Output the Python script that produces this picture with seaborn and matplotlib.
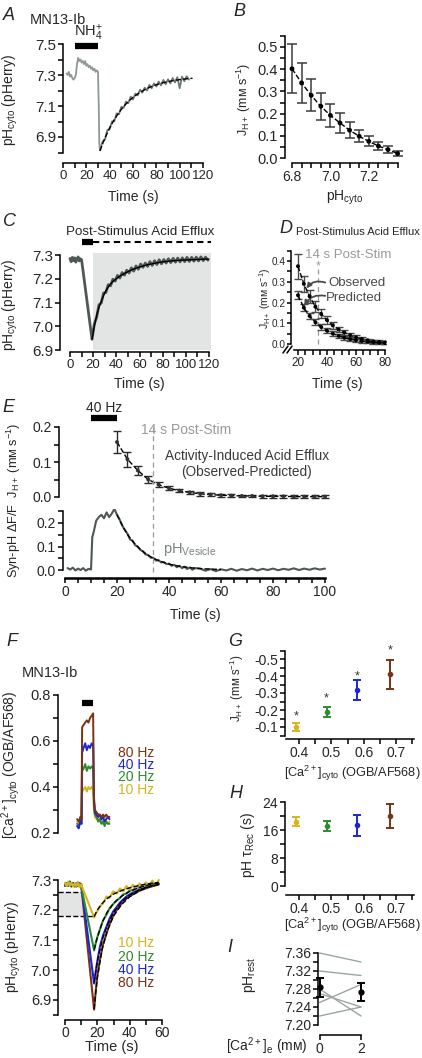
import numpy as np
import pandas as pd
import matplotlib
matplotlib.use("Agg")
import matplotlib.pyplot as plt
from matplotlib.lines import Line2D
from matplotlib.ticker import FixedLocator, FormatStrFormatter
import seaborn as sns

# ---------------- data ----------------
# A: NH4+ prepulse trace and fitted recovery
a_time = [3, 4, 5, 6, 7, 8, 9, 10, 11, 12, 13, 14, 15, 16, 17, 18, 19, 20, 21, 22, 23, 24, 25,
          26, 27, 28, 29, 30, 30.6, 31.1, 31.7] + list(range(34, 109, 2))
a_ph = [7.31, 7.30, 7.32, 7.29, 7.30, 7.28, 7.27, 7.28, 7.30, 7.37, 7.41, 7.39, 7.40, 7.38, 7.39,
        7.37, 7.39, 7.36, 7.37, 7.35, 7.36, 7.34, 7.35, 7.33, 7.34, 7.32, 7.33, 7.32, 7.12, 6.86, 6.815,
        6.872, 6.884, 6.945, 6.950, 7.000, 7.002, 7.052, 7.047, 7.095, 7.088, 7.128, 7.118, 7.160,
        7.142, 7.180, 7.168, 7.205, 7.186, 7.218, 7.200, 7.236, 7.214, 7.246, 7.226, 7.258, 7.233,
        7.268, 7.240, 7.272, 7.246, 7.280, 7.252, 7.286, 7.215, 7.289, 7.260, 7.292, 7.270]
a_fit_time = [31.7, 34, 36, 40, 44, 48, 52, 56, 60, 64, 68, 72, 76, 80, 84, 88, 92, 96, 100, 104, 108, 111]
a_fit_ph = [6.81, 6.857, 6.894, 6.959, 7.013, 7.059, 7.097, 7.129, 7.156, 7.178, 7.197, 7.213, 7.226,
            7.237, 7.246, 7.254, 7.260, 7.266, 7.270, 7.274, 7.277, 7.279]

# B: proton flux vs cytosolic pH
b_ph = [6.80, 6.85, 6.90, 6.95, 7.00, 7.05, 7.10, 7.15, 7.20, 7.25, 7.30, 7.35]
b_flux = [0.402, 0.338, 0.282, 0.233, 0.192, 0.158, 0.125, 0.098, 0.075, 0.054, 0.038, 0.020]
b_err = [0.110, 0.090, 0.072, 0.062, 0.053, 0.045, 0.035, 0.028, 0.023, 0.017, 0.015, 0.012]

# C: post-stimulus recovery
c_time = list(range(0, 11)) + [19] + list(range(21, 120, 2))
c_ph = [7.285, 7.272, 7.290, 7.276, 7.288, 7.270, 7.282, 7.292, 7.275, 7.284, 7.280, 6.945,
        7.010, 7.038, 7.090, 7.098, 7.140, 7.142, 7.175, 7.170, 7.198, 7.190,
        7.214, 7.203, 7.226, 7.215, 7.236, 7.224, 7.246, 7.232, 7.254, 7.240,
        7.262, 7.248, 7.266, 7.252, 7.272, 7.256, 7.276, 7.260, 7.280, 7.263,
        7.281, 7.266, 7.284, 7.268, 7.286, 7.270, 7.287, 7.271, 7.288, 7.272,
        7.290, 7.273, 7.290, 7.274, 7.291, 7.275, 7.292, 7.276, 7.291, 7.278]
c_fit_time = [19, 21, 23, 25, 27, 29, 31, 33, 35, 38, 41, 44, 47, 50, 54, 58, 62, 66, 70, 75, 80,
              85, 90, 95, 100, 105, 110, 115, 120]
c_fit_ph = [6.945, 7.000, 7.045, 7.080, 7.105, 7.130, 7.150, 7.165, 7.178, 7.193, 7.204, 7.214,
            7.222, 7.230, 7.239, 7.246, 7.252, 7.258, 7.262, 7.267, 7.271, 7.274, 7.276, 7.278,
            7.279, 7.280, 7.281, 7.282, 7.283]

# D: observed vs predicted efflux
d_time = [20, 24, 28, 32, 36, 40, 44, 48, 52, 56, 60, 64, 68, 72, 76, 80]
d_obs = [0.375, 0.29, 0.23, 0.18, 0.145, 0.115, 0.09, 0.07, 0.055, 0.042, 0.032, 0.024, 0.018,
         0.013, 0.010, 0.008]
d_obs_err = [0.06, 0.04, 0.032, 0.026, 0.022, 0.018, 0.016, 0.014, 0.012, 0.011, 0.010, 0.009,
             0.008, 0.008, 0.007, 0.007]
d_pred = [0.235, 0.175, 0.135, 0.105, 0.082, 0.064, 0.05, 0.039, 0.03, 0.023, 0.018, 0.014,
          0.011, 0.008, 0.006, 0.005]
d_pred_err = [0.02, 0.018, 0.016, 0.015, 0.014, 0.013, 0.012, 0.011, 0.010, 0.009, 0.008, 0.008,
              0.007, 0.007, 0.006, 0.006]

# E: activity-induced efflux and vesicular pH
e_time = list(range(20, 101, 4))
e_flux = [0.157, 0.108, 0.076, 0.050, 0.035, 0.025, 0.018, 0.013, 0.009, 0.007, 0.005, 0.004,
          0.003, 0.003, 0.002, 0.002, 0.002, 0.001, 0.001, 0.001, 0.001]
e_err = [0.032, 0.021, 0.014, 0.010, 0.007, 0.006, 0.005, 0.005, 0.005, 0.005, 0.005, 0.004,
         0.004, 0.004, 0.004, 0.004, 0.004, 0.004, 0.004, 0.004, 0.004]
e_ves_time = list(range(1, 11)) + [10.5] + list(range(11, 51)) + list(range(52, 101, 2))
e_ves = [0.008, 0.002, 0.010, -0.002, 0.006, 0.000, 0.008, -0.003, 0.005, 0.002, 0.14,
         0.16, 0.21, 0.225, 0.235, 0.22, 0.245, 0.225, 0.24, 0.26, 0.235,
         0.215, 0.19, 0.17, 0.155, 0.13, 0.125, 0.105, 0.10, 0.085, 0.08,
         0.066, 0.064, 0.052, 0.052, 0.04, 0.042, 0.032, 0.034, 0.025, 0.027,
         0.018, 0.022, 0.012, 0.018, 0.008, 0.014, 0.004, 0.011, 0.001, 0.008,
         0.006, -0.003, 0.004, -0.005, 0.003, -0.002, 0.005, -0.003, 0.004, -0.001,
         0.006, -0.002, 0.005, 0.000, 0.006, -0.001, 0.005, 0.001, 0.007, 0.000,
         0.006, 0.001, 0.007, 0.002, 0.006]
e_fit_time = [20, 22, 24, 26, 28, 30, 32, 34, 36, 38, 40, 44, 48, 52, 56, 60]
e_fit = [0.235, 0.19, 0.152, 0.122, 0.098, 0.078, 0.062, 0.05, 0.04, 0.032, 0.025, 0.016, 0.01,
         0.006, 0.004, 0.002]

# F: Ca2+ and pH responses to 10-80 Hz trains
freqs = ["10 Hz", "20 Hz", "40 Hz", "80 Hz"]
freq_colors = ["#d8b41c", "#2e8a2e", "#1c26d8", "#7a3212"]
f_ca_time = [7.5, 8.5, 9.5, 10.2, 10.6, 11.5, 12.5, 13.5, 14.5, 15.5, 16.5, 17.4, 17.9, 18.5,
             19.5, 20.5, 21.5, 22.5, 23.5, 24.5, 25.5, 26.5, 27.5]
f_ca = {
    "10 Hz": [0.25, 0.24, 0.26, 0.25, 0.38, 0.39, 0.40, 0.38, 0.40, 0.39, 0.40, 0.39, 0.30, 0.27,
              0.26, 0.27, 0.25, 0.26, 0.24, 0.26, 0.25, 0.24, 0.25],
    "20 Hz": [0.24, 0.23, 0.25, 0.24, 0.47, 0.48, 0.50, 0.47, 0.49, 0.48, 0.49, 0.48, 0.32, 0.28,
              0.27, 0.25, 0.26, 0.24, 0.25, 0.23, 0.25, 0.24, 0.24],
    "40 Hz": [0.23, 0.22, 0.25, 0.24, 0.55, 0.57, 0.59, 0.56, 0.58, 0.57, 0.59, 0.58, 0.34, 0.29,
              0.28, 0.27, 0.28, 0.26, 0.27, 0.25, 0.26, 0.27, 0.26],
    "80 Hz": [0.26, 0.25, 0.27, 0.26, 0.66, 0.67, 0.68, 0.69, 0.68, 0.70, 0.71, 0.72, 0.36, 0.30,
              0.29, 0.28, 0.28, 0.27, 0.28, 0.27, 0.28, 0.27, 0.27],
}
f_ph_time = [0, 1, 2, 3, 4, 5, 6, 7, 8, 9, 10, 18, 19, 20, 21.6, 23.5, 25.7, 27.5, 29.8, 32, 34,
             36, 38, 40, 42, 44, 46, 48, 50, 52, 54, 56, 58]
f_ph = {
    "10 Hz": [7.290, 7.280, 7.295, 7.282, 7.290, 7.278, 7.288, 7.280, 7.292, 7.276, 7.285,
              7.175, 7.188, 7.196, 7.212, 7.222, 7.245, 7.240, 7.262, 7.255, 7.272, 7.262,
              7.280, 7.268, 7.284, 7.272, 7.288, 7.276, 7.292, 7.280, 7.298, 7.282, 7.300],
    "20 Hz": [7.285, 7.290, 7.280, 7.292, 7.283, 7.288, 7.278, 7.290, 7.282, 7.287, 7.280,
              7.065, 7.090, 7.110, 7.135, 7.165, 7.185, 7.205, 7.220, 7.232, 7.240, 7.252,
              7.255, 7.265, 7.266, 7.275, 7.274, 7.282, 7.280, 7.286, 7.284, 7.290, 7.288],
    "40 Hz": [7.280, 7.290, 7.285, 7.295, 7.280, 7.290, 7.285, 7.278, 7.292, 7.283, 7.285,
              6.955, 6.995, 7.030, 7.078, 7.115, 7.145, 7.170, 7.195, 7.210, 7.225, 7.235,
              7.245, 7.252, 7.258, 7.263, 7.268, 7.272, 7.276, 7.279, 7.282, 7.285, 7.288],
    "80 Hz": [7.288, 7.280, 7.290, 7.285, 7.278, 7.290, 7.283, 7.287, 7.280, 7.290, 7.285,
              6.868, 6.930, 6.980, 7.035, 7.085, 7.122, 7.152, 7.180, 7.200, 7.215, 7.228,
              7.238, 7.246, 7.252, 7.258, 7.264, 7.268, 7.272, 7.276, 7.279, 7.282, 7.285],
}
f_fit_time = [18, 20, 23, 26, 30, 35, 40, 46, 52, 58]
f_fit = {
    "10 Hz": [7.178, 7.200, 7.222, 7.238, 7.253, 7.265, 7.274, 7.282, 7.288, 7.292],
    "20 Hz": [7.068, 7.108, 7.158, 7.192, 7.222, 7.246, 7.262, 7.275, 7.284, 7.290],
    "40 Hz": [6.958, 7.028, 7.100, 7.148, 7.192, 7.228, 7.250, 7.267, 7.279, 7.287],
    "80 Hz": [6.870, 6.975, 7.070, 7.128, 7.180, 7.218, 7.244, 7.264, 7.277, 7.285],
}

# G, H: summary vs [Ca2+]cyto
g_ca = [0.39, 0.485, 0.58, 0.68]
g_flux = [-0.10, -0.19, -0.318, -0.41]
g_err = [0.025, 0.03, 0.06, 0.085]
g_star = [-0.16, -0.27, -0.40, -0.55]
h_tau = [18.4, 17.1, 17.4, 20.0]
h_err = [1.2, 1.4, 3.0, 3.3]

# I: resting pH at 0 and 2 mM external Ca2+
i_ca0 = [7.36, 7.32, 7.28, 7.25, 7.22, 7.27]
i_ca2 = [7.34, 7.31, 7.22, 7.29, 7.24, 7.24]

# ---------------- style ----------------
sns.set_theme(style="ticks")
plt.rcParams["font.family"] = ["Liberation Sans", "DejaVu Sans"]
plt.rcParams["mathtext.fontset"] = "custom"
plt.rcParams["mathtext.rm"] = "Liberation Sans"
plt.rcParams["mathtext.it"] = "Liberation Sans:italic"
plt.rcParams["mathtext.fallback"] = "stixsans"
plt.rcParams["axes.unicode_minus"] = False

W, H = 422, 1058
fig = plt.figure(figsize=(W / 100, H / 100), dpi=100)
fig.patch.set_facecolor("white")

TRACE = "#4f5757"
LIGHT = "#8e9897"
SHADE = "#e3e5e5"
GREYTXT = "#9a9a9a"


def make_ax(xcal, ycal, xlim, ylim):
    (xa, pa), (xb, pb) = xcal
    sx = (pb - pa) / (xb - xa)
    left = pa + (xlim[0] - xa) * sx
    right = pa + (xlim[1] - xa) * sx
    (ya, qa), (yb, qb) = ycal
    sy = (qb - qa) / (yb - ya)
    bottom = qa + (ylim[0] - ya) * sy
    top = qa + (ylim[1] - ya) * sy
    ax = fig.add_axes([left / W, 1 - bottom / H, (right - left) / W, (bottom - top) / H])
    ax.set_xlim(*xlim)
    ax.set_ylim(*ylim)
    return ax


def style_ax(ax, xb=None, yb=None, xt=None, xm=None, yt=None, ym=None, xf=None, yf=None,
             xsize=10, ysize=10):
    ax.set_facecolor("none")
    ax.grid(False)
    ax.set_xlabel("")
    ax.set_ylabel("")
    for s in ("top", "right"):
        ax.spines[s].set_visible(False)
    for s in ("left", "bottom"):
        ax.spines[s].set_linewidth(1.1)
        ax.spines[s].set_color("black")
    ax.tick_params(which="both", direction="out", length=3.5, width=1.1, color="black", pad=1.5)
    ax.tick_params(axis="x", labelsize=xsize)
    ax.tick_params(axis="y", labelsize=ysize)
    if xb is None:
        ax.spines["bottom"].set_visible(False)
        ax.tick_params(axis="x", which="both", bottom=False, labelbottom=False)
    else:
        ax.spines["bottom"].set_bounds(*xb)
        ax.xaxis.set_major_locator(FixedLocator(xt))
        ax.xaxis.set_minor_locator(FixedLocator(xm if xm is not None else []))
        if xf:
            ax.xaxis.set_major_formatter(FormatStrFormatter(xf))
    if yb is None:
        ax.spines["left"].set_visible(False)
        ax.tick_params(axis="y", which="both", left=False, labelleft=False)
    else:
        ax.spines["left"].set_bounds(*yb)
        ax.yaxis.set_major_locator(FixedLocator(yt))
        ax.yaxis.set_minor_locator(FixedLocator(ym if ym is not None else []))
        if yf:
            ax.yaxis.set_major_formatter(FormatStrFormatter(yf))


def txt(x, y, s, **kw):
    kw.setdefault("size", 10)
    kw.setdefault("va", "center")
    fig.text(x / W, 1 - y / H, s, **kw)


def fig_line(x0, y0, x1, y1, **kw):
    fig.add_artist(Line2D([x0 / W, x1 / W], [1 - y0 / H, 1 - y1 / H], transform=fig.transFigure, **kw))


JH = "J$_{\\mathregular{H+}}$ (mᴍ s$^{\\mathregular{-1}}$)"
PHCYTO = "pH$_{\\mathregular{cyto}}$ (pHerry)"
CACYTO = "[Ca$^{\\mathregular{2+}}$]$_{\\mathregular{cyto}}$ (OGB/AF568)"

# panel letters
for lab, x, y in [("A", 3, 15), ("B", 233, 11), ("C", 3, 222), ("D", 279, 228), ("E", 2, 408),
                  ("F", 6, 641), ("G", 228, 642), ("H", 229, 793), ("I", 227, 948)]:
    txt(x, y, lab, size=13, style="italic", ha="left")

# ---------------- A ----------------
axA = make_ax(((0, 63), (120, 203)), ((7.5, 44), (6.9, 137)), (0, 122), (6.73, 7.52))
sns.lineplot(x=a_time[:31], y=a_ph[:31], ax=axA, color=LIGHT, lw=1.3)
sns.lineplot(x=a_time[30:], y=a_ph[30:], ax=axA, color="#6c7676", lw=1.3)
sns.lineplot(x=a_fit_time, y=a_fit_ph, ax=axA, color="black", lw=1.0, ls="--")
axA.plot([10, 30], [7.485, 7.485], color="black", lw=4.5, solid_capstyle="butt", clip_on=False)
style_ax(axA, xb=(0, 120), yb=(6.8, 7.5), xt=[0, 20, 40, 60, 80, 100, 120],
         xm=list(range(0, 121, 10)), yt=[6.9, 7.1, 7.3, 7.5], ym=[6.8, 7.0, 7.2, 7.4], yf="%.1f",
         xsize=9.5, ysize=11)
txt(30, 20, "MN13-Ib", size=10.5, ha="left")
txt(88, 33, "NH$_{\\mathregular{4}}^{\\mathregular{+}}$", ha="center", size=10.5)
txt(10, 100, PHCYTO, rotation=90, ha="center")
txt(133, 197, "Time (s)", ha="center")

# ---------------- B ----------------
axB = make_ax(((6.8, 292), (7.35, 397.6)), ((0.5, 47), (0.0, 158)), (6.764, 7.37), (-0.0225, 0.56))
axB.errorbar(b_ph, b_flux, yerr=b_err, fmt="none", ecolor="#3c3c3c", elinewidth=1.1, capsize=3.4,
             capthick=1.1, clip_on=False)
sns.lineplot(x=b_ph, y=b_flux, ax=axB, color="black", lw=1.0, ls="--")
sns.scatterplot(x=b_ph, y=b_flux, ax=axB, color="black", s=12, edgecolor="none", zorder=5)
style_ax(axB, xb=(6.8, 7.35), yb=(0, 0.55), xt=[6.8, 7.0, 7.2], xm=list(np.arange(6.8, 7.36, 0.05)),
         yt=[0, 0.1, 0.2, 0.3, 0.4, 0.5], ym=list(np.arange(0, 0.56, 0.05)), xf="%.1f", yf="%.1f",
         ysize=10.5)
txt(244, 99, JH, rotation=90, ha="center", size=9)
txt(345, 198, "pH$_{\\mathregular{cyto}}$", ha="center")

# ---------------- C ----------------
axC = make_ax(((0, 70), (120, 209)), ((7.3, 255), (6.9, 350)), (-8.6, 122), (6.89, 7.31))
axC.fill_between([20, 122], 6.9, 7.31, color=SHADE, lw=0, zorder=0)
sns.lineplot(x=c_time, y=c_ph, ax=axC, color=TRACE, lw=2.0)
sns.lineplot(x=c_fit_time, y=c_fit_ph, ax=axC, color="black", lw=1.0)
axC.plot([10, 20], [7.355, 7.355], color="black", lw=4.5, solid_capstyle="butt", clip_on=False)
axC.plot([20, 122], [7.355, 7.355], color="black", lw=1.5, ls=(0, (3, 2)), clip_on=False)
style_ax(axC, xb=(0, 120), yb=(6.9, 7.3), xt=[0, 20, 40, 60, 80, 100, 120],
         xm=list(range(0, 121, 10)), yt=[6.9, 7.0, 7.1, 7.2, 7.3], yf="%.1f", xsize=9.5, ysize=11)
txt(140, 232, "Post-Stimulus Acid Efflux", ha="center", size=9.6)
txt(10, 305, PHCYTO, rotation=90, ha="center")
txt(139, 384, "Time (s)", ha="center")

# ---------------- D ----------------
axD = make_ax(((20, 298), (80, 385)), ((0.4, 261), (0.0, 344)), (15.2, 81), (-0.029, 0.46))
axD.plot([34, 34], [0, 0.36], color=GREYTXT, lw=0.9, ls=(0, (4, 3)))
axD.text(34, 0.375, "*", color=GREYTXT, ha="center", va="center", size=9)
for vals, errs in [(d_obs, d_obs_err), (d_pred, d_pred_err)]:
    axD.errorbar(d_time, vals, yerr=errs, fmt="none", ecolor="#4a4a4a", elinewidth=1.0, capsize=2.8,
                 capthick=1.0)
    sns.lineplot(x=d_time, y=vals, ax=axD, color="black", lw=1.0, ls="--")
    sns.scatterplot(x=d_time, y=vals, ax=axD, color="black", s=8, edgecolor="none", zorder=5)
axD.annotate("", xy=(25.8, 0.268), xytext=(38.8, 0.296),
             arrowprops=dict(arrowstyle="-|>", color="#4a4a4a", lw=1.3, mutation_scale=7,
                             connectionstyle="arc3,rad=0.35", shrinkA=0, shrinkB=0))
axD.annotate("", xy=(24.3, 0.185), xytext=(38.8, 0.232),
             arrowprops=dict(arrowstyle="-|>", color="#4a4a4a", lw=1.3, mutation_scale=7,
                             connectionstyle="arc3,rad=0.35", shrinkA=0, shrinkB=0))
style_ax(axD, xb=(17.5, 80), yb=(0, 0.45), xt=[20, 40, 60, 80], xm=list(range(20, 81, 5)),
         yt=[0, 0.1, 0.2, 0.3, 0.4], ym=list(np.arange(0, 0.46, 0.05)), yf="%.1f",
         xsize=8.5, ysize=7.2)
axD.tick_params(axis="y", which="both", length=3, pad=1)
fig_line(283, 353, 288, 346, color="black", lw=1.1)
fig_line(287, 353, 292, 346, color="black", lw=1.1)
txt(358, 232, "Post-Stimulus Acid Efflux", ha="center", size=8.0)
txt(348, 255, "14 s Post-Stim", ha="center", color=GREYTXT, size=9.5)
txt(328, 283, "Observed", ha="left", color="#4a4a4a", size=9.5)
txt(326, 298, "Predicted", ha="left", color="#4a4a4a", size=9.5)
txt(265, 298, JH, rotation=90, ha="center", size=7.5)
txt(337, 384, "Time (s)", ha="center")

# ---------------- E ----------------
axE1 = make_ax(((0, 65), (100, 325)), ((0.2, 427), (0.0, 497)), (-2.3, 102), (-0.015, 0.21))
axE1.errorbar(e_time, e_flux, yerr=e_err, fmt="none", ecolor="#2a2a2a", elinewidth=1.0, capsize=3.0,
              capthick=1.0, clip_on=False)
sns.lineplot(x=e_time, y=e_flux, ax=axE1, color="black", lw=1.0, ls="--")
sns.scatterplot(x=e_time, y=e_flux, ax=axE1, color="#333333", s=8, edgecolor="none", zorder=5)
axE1.plot([10, 20], [0.226, 0.226], color="black", lw=4.5, solid_capstyle="butt", clip_on=False)
style_ax(axE1, yb=(0, 0.2), yt=[0, 0.1, 0.2], ym=[0.05, 0.15], yf="%.1f")

axE2 = make_ax(((0, 65), (100, 325)), ((0.2, 523), (0.0, 570)), (-0.8, 102), (-0.034, 0.26))
sns.lineplot(x=e_ves_time, y=e_ves, ax=axE2, color=TRACE, lw=1.5)
sns.lineplot(x=e_fit_time, y=e_fit, ax=axE2, color="black", lw=1.0, ls="--")
style_ax(axE2, xb=(0, 100), yb=(0, 0.25), xt=[0, 20, 40, 60, 80, 100], xm=list(range(0, 101, 5)),
         yt=[0, 0.1, 0.2], ym=[0.05, 0.15, 0.25], yf="%.1f")
axE2.spines["bottom"].set_linewidth(1.8)
fig_line(153.4, 427, 153.4, 573, color=GREYTXT, lw=0.9, ls=(0, (4, 3)))
txt(104, 408, "40 Hz", ha="center")
txt(186, 430, "14 s Post-Stim", ha="center", color=GREYTXT, size=10)
txt(247, 456, "Activity-Induced Acid Efflux", ha="center", color="#3a3a3a", size=9.8)
txt(247, 472, "(Observed-Predicted)", ha="center", color="#3a3a3a", size=9.8)
txt(163, 550, "pH$_{\\mathregular{Vesicle}}$", ha="left", color="#7a8282", size=10.5)
txt(14, 500, "Syn-pH ΔF/F  " + JH, rotation=90, ha="center", size=9.2)
txt(195, 615, "Time (s)", ha="center")

# ---------------- F ----------------
axF1 = make_ax(((0, 65), (60, 162)), ((0.2, 833), (0.6, 741)), (-4.3, 61), (0.19, 0.82))
for fq, col in zip(freqs, freq_colors):
    sns.lineplot(x=f_ca_time, y=f_ca[fq], ax=axF1, color=col, lw=1.4)
axF1.plot([10.5, 17.3], [0.765, 0.765], color="black", lw=4.5, solid_capstyle="butt")
style_ax(axF1, yb=(0.2, 0.8), yt=[0.2, 0.4, 0.6, 0.8], ym=[0.3, 0.5, 0.7], yf="%.1f", ysize=10.5)
txt(22, 673, "MN13-Ib", ha="left", size=10.5)
txt(11, 765, CACYTO, rotation=90, ha="center")
for fq, col, y in zip(freqs[::-1], freq_colors[::-1], [753, 765, 777, 790]):
    txt(118, y, fq, ha="left", color=col)

axF2 = make_ax(((0, 65), (60, 162)), ((7.3, 880), (6.9, 1000)), (-4.3, 61), (6.835, 7.31))
axF2.fill_between([-4.3, 11], 7.18, 7.26, color=SHADE, lw=0, zorder=0)
axF2.plot([-4.3, 11], [7.26, 7.26], color="black", lw=1.0, ls="--")
axF2.plot([-4.3, 18.5], [7.18, 7.18], color="black", lw=1.0, ls="--")
for fq, col in zip(freqs[::-1], freq_colors[::-1]):
    sns.lineplot(x=f_ph_time, y=f_ph[fq], ax=axF2, color=col, lw=1.5)
for fq in freqs:
    sns.lineplot(x=f_fit_time, y=f_fit[fq], ax=axF2, color="black", lw=1.0, ls="--")
style_ax(axF2, xb=(0, 60), yb=(6.85, 7.3), xt=[0, 20, 40, 60], xm=list(range(0, 61, 10)),
         yt=[6.9, 7.0, 7.1, 7.2, 7.3], ym=list(np.arange(6.85, 7.31, 0.05)), yf="%.1f", ysize=10.5)
for fq, col, y in zip(freqs, freq_colors, [943, 957, 970, 983]):
    txt(118, y, fq, ha="left", color=col)
txt(13, 947, PHCYTO, rotation=90, ha="center")
txt(112, 1047, "Time (s)", ha="center", size=10.5)

# ---------------- G ----------------
axG = make_ax(((0.4, 299), (0.7, 396.2)), ((-0.1, 727), (-0.5, 659)), (0.357, 0.76), (-0.03, -0.55))
for x, y, e, s, col in zip(g_ca, g_flux, g_err, g_star, freq_colors):
    axG.errorbar([x], [y], yerr=[e], fmt="o", ms=3, color=col, ecolor=col, elinewidth=1.4,
                 capsize=3.2, capthick=1.4, clip_on=False)
    axG.text(x, s, "*", ha="center", va="center", size=9, color="#333333")
style_ax(axG, xb=(0.36, 0.755), yb=(-0.05, -0.55), xt=[0.4, 0.5, 0.6, 0.7],
         xm=list(np.arange(0.4, 0.76, 0.05)), yt=[-0.5, -0.4, -0.3, -0.2, -0.1],
         ym=list(np.arange(-0.55, -0.04, 0.05)), xf="%.1f", yf="%.1f")
txt(237, 688, JH, rotation=90, ha="center", size=8.3)
txt(352, 773, CACYTO, ha="center", size=9.2)

# ---------------- H ----------------
axH = make_ax(((0.4, 299), (0.7, 396.2)), ((24, 802), (0, 886)), (0.357, 0.76), (-2.6, 25))
for x, y, e, col in zip(g_ca, h_tau, h_err, freq_colors):
    axH.errorbar([x], [y], yerr=[e], fmt="o", ms=3, color=col, ecolor=col, elinewidth=1.4,
                 capsize=3.2, capthick=1.4, clip_on=False)
style_ax(axH, xb=(0.36, 0.755), yb=(0, 24), xt=[0.4, 0.5, 0.6, 0.7],
         xm=list(np.arange(0.4, 0.76, 0.05)), yt=[0, 8, 16, 24], ym=[4, 12, 20], xf="%.1f")
txt(248, 845, "pH τ$_{\\mathregular{Rec}}$ (s)", rotation=90, ha="center")
txt(352, 925, CACYTO, ha="center", size=9.2)

# ---------------- I ----------------
axI = make_ax(((0, 319.5), (2, 361)), ((7.36, 953), (7.20, 1025)), (-0.073, 2.2), (7.178, 7.37))
df_i = pd.DataFrame({"cell": list(range(len(i_ca0))) * 2,
                     "ca": [0] * len(i_ca0) + [2] * len(i_ca2),
                     "ph": i_ca0 + i_ca2})
sns.lineplot(data=df_i, x="ca", y="ph", units="cell", estimator=None, ax=axI, color="#9aa4a4", lw=1.0)
means = [np.mean(i_ca0), np.mean(i_ca2)]
sems = [np.std(i_ca0, ddof=1) / np.sqrt(len(i_ca0)), np.std(i_ca2, ddof=1) / np.sqrt(len(i_ca2))]
axI.errorbar([0, 2], means, yerr=sems, fmt="o", ms=3.5, color="black", elinewidth=1.4, capsize=3.2,
             capthick=1.4, clip_on=False, zorder=5)
style_ax(axI, xb=(0, 2), yb=(7.20, 7.36), xt=[0, 2], yt=[7.20, 7.24, 7.28, 7.32, 7.36],
         ym=[7.22, 7.26, 7.30, 7.34], yf="%.2f")
txt(249, 975, "pH$_{\\mathregular{rest}}$", rotation=90, ha="center")
txt(308, 1046, "[Ca$^{\\mathregular{2+}}$]$_{\\mathregular{e}}$ (mᴍ)", ha="right")

fig.savefig("out.png", dpi=100, facecolor="white")
